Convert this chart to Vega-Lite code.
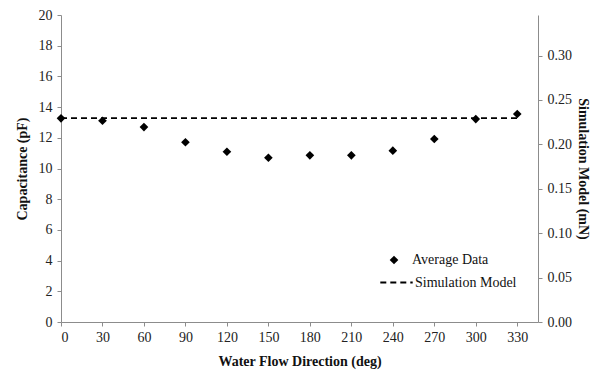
{
  "$schema": "https://vega.github.io/schema/vega-lite/v6.json",
  "width": 477,
  "height": 307,
  "autosize": {"type": "none"},
  "padding": {"left": 61, "top": 15, "right": 62, "bottom": 52},
  "background": "white",
  "config": {
    "view": {"stroke": null},
    "font": "Liberation Serif",
    "axis": {
      "grid": false,
      "domainColor": "#8c8c8c",
      "tickColor": "#8c8c8c",
      "tickSize": 4,
      "labelFont": "Liberation Serif",
      "labelFontSize": 14,
      "labelColor": "#222",
      "titleFont": "Liberation Serif",
      "titleFontSize": 14,
      "titleFontWeight": "bold",
      "titleColor": "#111"
    },
    "legend": {"labelFont": "Liberation Serif", "labelFontSize": 14, "labelColor": "#111"}
  },
  "datasets": {
    "avg": [
      {"direction": 0, "capacitance": 13.27, "series": "Average Data"},
      {"direction": 30, "capacitance": 13.11, "series": "Average Data"},
      {"direction": 60, "capacitance": 12.70, "series": "Average Data"},
      {"direction": 90, "capacitance": 11.71, "series": "Average Data"},
      {"direction": 120, "capacitance": 11.09, "series": "Average Data"},
      {"direction": 150, "capacitance": 10.70, "series": "Average Data"},
      {"direction": 180, "capacitance": 10.86, "series": "Average Data"},
      {"direction": 210, "capacitance": 10.86, "series": "Average Data"},
      {"direction": 240, "capacitance": 11.16, "series": "Average Data"},
      {"direction": 270, "capacitance": 11.92, "series": "Average Data"},
      {"direction": 300, "capacitance": 13.22, "series": "Average Data"},
      {"direction": 330, "capacitance": 13.55, "series": "Average Data"}
    ],
    "sim": [
      {"direction": 0, "force": 0.2295, "series": "Simulation Model"},
      {"direction": 330, "force": 0.2295, "series": "Simulation Model"}
    ]
  },
  "encoding": {
    "x": {
      "field": "direction",
      "type": "quantitative",
      "scale": {"domain": [0, 345], "nice": false, "zero": false},
      "axis": {
        "values": [0, 30, 60, 90, 120, 150, 180, 210, 240, 270, 300, 330],
        "title": "Water Flow Direction (deg)",
        "labelPadding": 4,
        "titlePadding": 10
      }
    }
  },
  "layer": [
    {
      "data": {"name": "avg"},
      "mark": {"type": "point", "shape": "diamond", "filled": true, "color": "black", "opacity": 1, "size": 75},
      "encoding": {
        "y": {
          "field": "capacitance",
          "type": "quantitative",
          "scale": {"domain": [0, 20], "nice": false},
          "axis": {"values": [0, 2, 4, 6, 8, 10, 12, 14, 16, 18, 20], "title": "Capacitance (pF)", "orient": "left", "titlePadding": 9, "labelPadding": 5}
        },
        "shape": {
          "field": "series",
          "type": "nominal",
          "scale": {"range": ["diamond"]},
          "legend": {"title": null, "orient": "none", "legendX": 326, "legendY": 238, "symbolFillColor": "black", "symbolStrokeColor": "black", "symbolSize": 75, "symbolStrokeWidth": 0, "labelOffset": 11}
        }
      }
    },
    {
      "data": {"name": "sim"},
      "mark": {"type": "line", "color": "black", "strokeWidth": 1.8},
      "encoding": {
        "y": {
          "field": "force",
          "type": "quantitative",
          "scale": {"domain": [0, 0.3457], "nice": false},
          "axis": {"values": [0, 0.05, 0.1, 0.15, 0.2, 0.25, 0.3], "format": ".2f", "title": "Simulation Model (mN)", "orient": "right", "titlePadding": 4, "labelPadding": 5}
        },
        "strokeDash": {
          "field": "series",
          "type": "nominal",
          "scale": {"range": [[6, 4]]},
          "legend": {"title": null, "orient": "none", "legendX": 318, "legendY": 250, "symbolType": "stroke", "symbolSize": 1050, "symbolStrokeColor": "black", "symbolStrokeWidth": 1.8, "labelOffset": 1}
        }
      }
    }
  ],
  "resolve": {"scale": {"y": "independent", "shape": "independent", "strokeDash": "independent"}}
}
